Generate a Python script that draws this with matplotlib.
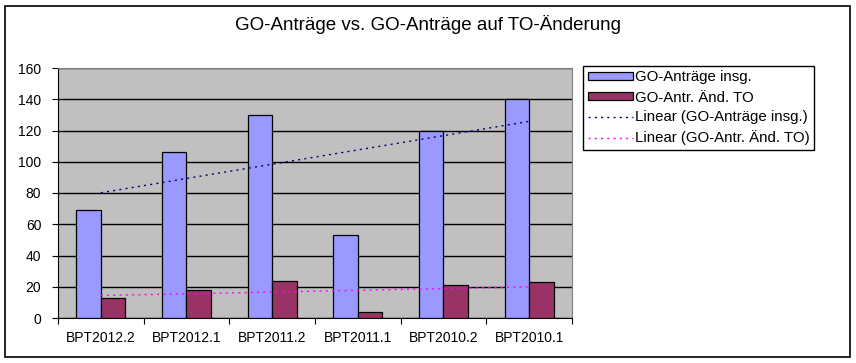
import matplotlib.pyplot as plt
import numpy as np
from matplotlib.patches import Rectangle

plt.rcParams['font.family'] = ['Liberation Sans', 'DejaVu Sans']

categories = ['BPT2012.2', 'BPT2012.1', 'BPT2011.2', 'BPT2011.1', 'BPT2010.2', 'BPT2010.1']
go_total = [69, 106, 130, 53, 120, 140]
go_to = [13, 18, 24, 4, 21, 23]
y_ticks = [0, 20, 40, 60, 80, 100, 120, 140, 160]

fig = plt.figure(figsize=(8.56, 3.63), dpi=100)
fig.patches.append(Rectangle((5/856, 6/363), 845/856, 351/363, transform=fig.transFigure,
                             fill=False, edgecolor='black', linewidth=1.2))

ax = fig.add_axes([58/856, 1-318/363, 514/856, 250/363])
ax.set_facecolor('#C0C0C0')

x = np.arange(len(categories))
w = 1/3.5
b1 = ax.bar(x - w/2, go_total, w, color='#9999FF', edgecolor='black', linewidth=0.9, zorder=3)
b2 = ax.bar(x + w/2, go_to, w, color='#993366', edgecolor='black', linewidth=0.9, zorder=3)

# linear trend lines
lines = []
for vals, col in [(go_total, '#000080'), (go_to, '#FF00FF')]:
    k, d = np.polyfit(x, vals, 1)
    ln, = ax.plot(x, k*x + d, linestyle=(0, (1.5, 3)), color=col, linewidth=1, zorder=4)
    lines.append(ln)

ax.set_xlim(-0.5, len(categories) - 0.5)
ax.set_ylim(0, 160)
ax.set_yticks(y_ticks)
ax.set_yticklabels([str(v) for v in y_ticks], fontsize=10)
ax.yaxis.grid(True, color='black', linewidth=1, zorder=0)
ax.set_axisbelow(True)

ax.set_xticks(np.arange(-0.5, len(categories)), minor=False)
ax.set_xticklabels([])
ax.set_xticks(x, minor=True)
ax.set_xticklabels(categories, minor=True, fontsize=10)
ax.tick_params(axis='x', which='minor', length=0, pad=9)
ax.tick_params(axis='x', which='major', length=4, direction='out', color='black')
ax.tick_params(axis='y', length=4, direction='out', pad=8)

for s in ['top', 'right']:
    ax.spines[s].set_color('#808080')
ax.spines['left'].set_color('black')
ax.spines['bottom'].set_color('black')

fig.text(0.5, 1-25/363, 'GO-Anträge vs. GO-Anträge auf TO-Änderung', ha='center', va='center',
         fontsize=13.5)

leg = fig.legend([b1, b2] + lines,
                 ['GO-Anträge insg.', 'GO-Antr. Änd. TO',
                  'Linear (GO-Anträge insg.)', 'Linear (GO-Antr. Änd. TO)'],
                 loc='upper left', bbox_to_anchor=(583/856, 1-66/363), fontsize=10.8,
                 frameon=True, fancybox=False, edgecolor='black', framealpha=1,
                 handlelength=3.0, handleheight=0.45, handletextpad=0.15,
                 borderpad=0.3, labelspacing=0.4, borderaxespad=0)
leg.get_frame().set_linewidth(1)

fig.savefig('out.png', dpi=100)
